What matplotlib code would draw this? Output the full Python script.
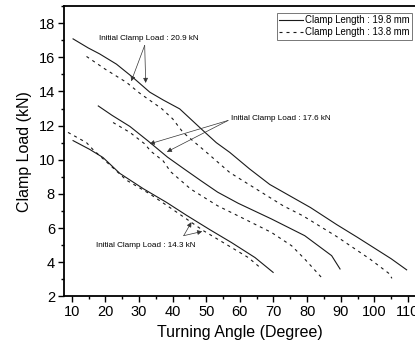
import matplotlib
matplotlib.use("Agg")
import matplotlib.pyplot as plt
from matplotlib.ticker import MultipleLocator

plt.rcParams['font.family'] = ['Liberation Sans', 'DejaVu Sans']

# Initial clamp load 20.9 kN
a_solid_x = [10.4, 14.9, 18.3, 23.3, 28.2, 33.2, 37.2, 42.1, 49.1, 53.0, 57.0, 62.9, 68.9, 74.9, 81.0, 88.8, 95.0, 99.0, 105.0, 109.6]
a_solid_y = [17.08, 16.55, 16.2, 15.6, 14.82, 13.96, 13.5, 12.98, 11.7, 11.0, 10.43, 9.46, 8.55, 7.88, 7.2, 6.2, 5.45, 4.95, 4.2, 3.55]
a_dash_x = [14.4, 20.0, 26.3, 30.2, 36.7, 40.0, 43.1, 50.1, 57.0, 64.9, 72.9, 78.8, 88.8, 98.7, 104.6, 105.2]
a_dash_y = [16.05, 15.3, 14.53, 13.9, 13.0, 12.4, 11.6, 10.43, 9.25, 8.28, 7.3, 6.71, 5.5, 4.18, 3.3, 3.05]
# Initial clamp load 17.6 kN
b_solid_x = [17.9, 22.0, 27.3, 32.7, 38.5, 43.5, 48.5, 53.4, 59.5, 69.4, 79.3, 87.3, 89.8]
b_solid_y = [13.15, 12.6, 11.95, 11.1, 10.15, 9.45, 8.76, 8.1, 7.45, 6.53, 5.55, 4.38, 3.6]
b_dash_x = [22.3, 27.3, 31.7, 33.5, 37.2, 39.4, 45.4, 53.4, 59.5, 69.4, 75.4, 79.3, 84.3]
b_dash_y = [12.18, 11.6, 10.93, 10.5, 9.93, 9.3, 8.28, 7.3, 6.71, 5.74, 4.96, 4.18, 3.1]
# Initial clamp load 14.3 kN
c_solid_x = [10.4, 15.4, 19.3, 24.3, 31.3, 38.2, 44.1, 51.1, 57.5, 64.5, 69.9]
c_solid_y = [11.12, 10.6, 10.13, 9.2, 8.3, 7.5, 6.75, 5.9, 5.15, 4.27, 3.4]
c_dash_x = [8.9, 14.4, 16.3, 26.3, 33.2, 41.2, 49.1, 57.5, 62.5, 66.0]
c_dash_y = [11.6, 11.0, 10.6, 8.8, 8.0, 6.93, 5.85, 4.86, 4.27, 3.69]

legend_labels = ['Clamp Length : 19.8 mm', 'Clamp Length : 13.8 mm']
ann_labels = ['Initial Clamp Load : 20.9 kN', 'Initial Clamp Load : 17.6 kN', 'Initial Clamp Load : 14.3 kN']

fig = plt.figure(figsize=(4.15, 3.45), dpi=100)
ax = fig.add_axes([0.1542, 0.1412, 0.8475, 0.8411])

lw = 0.8
dash = (0, (2.7, 3.6))
col = '#1a1a1a'
ax.plot(a_solid_x, a_solid_y, color=col, lw=lw, label=legend_labels[0])
ax.plot(a_dash_x, a_dash_y, color=col, lw=lw, linestyle=dash, label=legend_labels[1])
ax.plot(b_solid_x, b_solid_y, color=col, lw=lw)
ax.plot(b_dash_x, b_dash_y, color=col, lw=lw, linestyle=dash)
ax.plot(c_solid_x, c_solid_y, color=col, lw=lw)
ax.plot(c_dash_x, c_dash_y, color=col, lw=lw, linestyle=dash)

ax.set_xlim(7.7, 112.3)
ax.set_ylim(2, 19)
ax.xaxis.set_major_locator(MultipleLocator(10))
ax.xaxis.set_minor_locator(MultipleLocator(5))
ax.yaxis.set_major_locator(MultipleLocator(2))
ax.yaxis.set_minor_locator(MultipleLocator(1))
ax.tick_params(which='major', direction='out', length=4.5, width=1.0, labelsize=10.5, pad=2)
ax.tick_params(which='minor', direction='out', length=2.3, width=1.0)
for s in ax.spines.values():
    s.set_linewidth(1.3)

ax.set_xlabel('Turning Angle (Degree)', fontsize=11.5, labelpad=4)
ax.set_ylabel('Clamp Load (kN)', fontsize=11.5, labelpad=5)

afs = 5.9
ap = dict(arrowstyle='-|>', lw=0.5, color='#333333', mutation_scale=7, shrinkA=0, shrinkB=0)
# 20.9 kN
ax.text(33.0, 17.08, ann_labels[0], fontsize=afs, ha='center', va='center')
for tip in [(27.7, 14.6), (32.0, 14.5)]:
    ax.annotate('', xy=tip, xytext=(31.7, 16.7), arrowprops=ap)
# 17.6 kN
ax.text(57.3, 12.4, ann_labels[1], fontsize=afs, ha='left', va='center')
for tip in [(33.2, 10.93), (38.3, 10.46)]:
    ax.annotate('', xy=tip, xytext=(56.5, 12.3), arrowprops=ap)
# 14.3 kN
ax.text(32.0, 5.0, ann_labels[2], fontsize=afs, ha='center', va='center')
for tip in [(45.6, 6.34), (48.8, 5.8)]:
    ax.annotate('', xy=tip, xytext=(43.3, 5.55), arrowprops=ap)

leg = ax.legend(loc='upper right', bbox_to_anchor=(412/415, 1 - 13/345), bbox_transform=fig.transFigure,
                fontsize=6.9, frameon=True, fancybox=False, handlelength=2.5, handletextpad=0.2,
                labelspacing=0.2, borderpad=0.25, borderaxespad=0)
leg.get_frame().set_edgecolor('#555555')
leg.get_frame().set_linewidth(0.7)

fig.savefig('out.png', dpi=100)
